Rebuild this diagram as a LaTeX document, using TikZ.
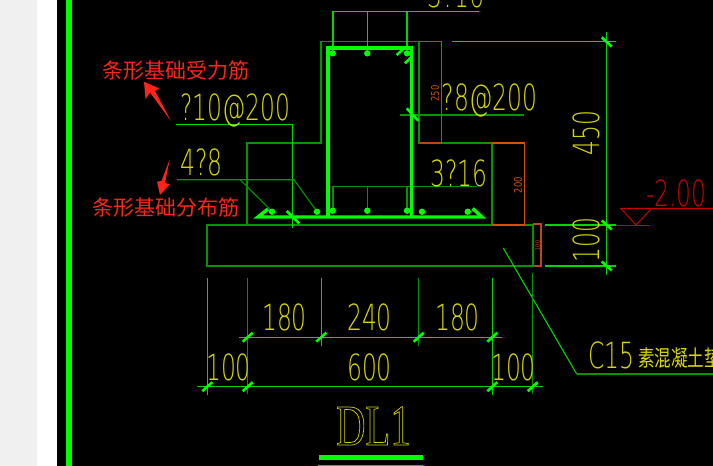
\documentclass[tikz,border=0pt]{standalone}
\usepackage{fontspec}
\setmainfont{Liberation Serif}
\newfontfamily\cadfont[FakeStretch=0.65]{DejaVu Sans ExtraLight}
\newfontfamily\smallfont[FakeStretch=0.8]{DejaVu Sans}
\newfontfamily\titlefont[FakeStretch=0.7]{Liberation Serif}
\newfontfamily\cjk{Noto Sans CJK SC}
\definecolor{cadgreen}{RGB}{0,215,0}
\definecolor{dkgreen}{RGB}{0,150,0}
\definecolor{rebargreen}{RGB}{0,255,0}
\definecolor{cadyellow}{RGB}{215,215,0}
\definecolor{cadorange}{RGB}{215,80,10}
\definecolor{cadbrown}{RGB}{190,70,20}
\definecolor{cadred}{RGB}{200,0,0}
\definecolor{notered}{RGB}{255,35,25}

\begin{document}
\begin{tikzpicture}[x=1pt, y=-1pt]
\tikzset{thinline/.style={draw=cadgreen, line width=1.1pt},
  darkline/.style={draw=dkgreen, line width=1.1pt},
  dimline/.style={draw=cadorange, line width=1.4pt},
  rebar/.style={draw=rebargreen, line width=3.4pt},
  rtick/.style={draw=rebargreen, line width=2.6pt},
  rdot/.style={fill=rebargreen},
  cadtxt/.style={text=cadyellow, inner sep=0pt, anchor=base west, font=\cadfont\fontsize{36}{36}\selectfont},
  smalltxt/.style={text=cadorange, inner sep=0pt, rotate=90, font=\smallfont\fontsize{10.5}{10.5}\selectfont},
  notetxt/.style={text=notered, inner sep=0pt, anchor=west, font=\cjk\fontsize{21}{21}\selectfont}}
\clip (0,0) rectangle (713,466);
% page and screen
\fill[black] (0,0) rectangle (713,466);
\fill[white] (0,0) rectangle (57,466);
\fill[black!6!white] (0,0) rectangle (37,466);
\fill[black] (57,0) rectangle (713,466);
\fill[rebargreen] (65.5,0) rectangle (71.5,466);
% concrete outline
\draw[darkline] (247,225) -- (247,143) -- (321,143) -- (321,41.6) -- (419,41.6) -- (419,143) -- (492,143) -- (492,225);
\draw[darkline] (207,225) rectangle (533,266);
% leaders to the top and bottom bars
\draw[thinline] (333,50) -- (333,11.5) -- (479,11.5);
\draw[thinline] (367.3,11.5) -- (367.3,50);
\draw[thinline] (407,11.5) -- (407,50);
\draw[darkline] (333,210) -- (333,186.3) -- (477,186.3);
\draw[darkline] (367.3,186.3) -- (367.3,210);
\draw[darkline] (407,186.3) -- (407,210);
\draw[thinline] (176,124.7) -- (292.3,124.7) -- (292.3,227.7);
\draw[darkline] (177,179.7) -- (294,179.7) -- (315.3,209.3);
\draw[darkline] (240,179.7) -- (270,209.3);
\draw[darkline] (400,115) -- (524,115);
% rebars
\draw[rebar] (328,216.7) -- (328,48) -- (411.7,48) -- (411.7,216.7);
\draw[rebar] (268,209) -- (258,217) -- (482,217) -- (472.7,208.5);
\draw[rtick] (396.7,55) -- (403,49.3);
\draw[rtick] (405,63.3) -- (411.7,56.7);
\draw[rtick] (406.7,108.3) -- (418.3,120.7);
\draw[rtick] (286.7,211) -- (299,223.3);
\fill[rdot] (332.7,53.3) circle (3.2);
\fill[rdot] (367.3,53.3) circle (3.2);
\fill[rdot] (407,53.3) circle (3.2);
\fill[rdot] (272,211.7) circle (3.2);
\fill[rdot] (317,211.7) circle (3.2);
\fill[rdot] (332.7,210.7) circle (3.2);
\fill[rdot] (367.3,210.7) circle (3.2);
\fill[rdot] (407,210.7) circle (3.2);
\fill[rdot] (422,211.7) circle (3.2);
\fill[rdot] (467.7,211.7) circle (3.2);
% small dimensions
\draw[dimline, draw=cadbrown] (420,41.6) -- (441.2,41.6) -- (441.2,143) -- (420,143);
\draw[dimline] (492,143) -- (524.7,143) -- (524.7,225) -- (492,225);
\draw[dimline, draw=cadbrown] (533,224) -- (541,224) -- (541,266) -- (533,266);
\node[smalltxt] (lab250) at (435,93.5) {250};
\node[smalltxt] (lab200) at (518,185) {200};
\node[smalltxt, font=\smallfont\fontsize{6}{6}\selectfont] (lab10) at (537.7,245.5) {100};
% right dimensions
\draw[thinline] (606.7,32) -- (606.7,275);
\draw[thinline] (451.7,41.6) -- (616,41.6);
\draw[thinline] (545,225) -- (616,225);
\draw[thinline] (545,266) -- (616,266);
\draw[rtick] (601.7,37.3) -- (611.7,46.7);
\draw[rtick] (601.7,220.5) -- (611.7,229.5);
\draw[rtick] (601.7,261.5) -- (611.7,270.5);
% level mark
\draw[cadred, line width=1pt] (713,208.3) -- (620.7,208.3) -- (636,225) -- (651.7,208.3);
\draw[cadred, line width=1pt] (616,225) -- (650,225);
% concrete leader
\draw[thinline] (503.3,248) -- (576.7,374);
\draw[darkline] (576.7,374) -- (713,374);
% bottom dimensions
\draw[thinline] (207.3,278) -- (207.3,395);
\draw[darkline] (247.7,278) -- (247.7,394);
\draw[thinline] (321.3,278) -- (321.3,346);
\draw[darkline] (418.7,278) -- (418.7,346);
\draw[thinline] (492.3,278) -- (492.3,395);
\draw[darkline] (532.7,273) -- (532.7,394);
\draw[thinline] (239,337.3) -- (501.7,337.3);
\draw[thinline] (197.3,386.7) -- (542.7,386.7);
\draw[rtick] (242.7,341.7) -- (252.7,332.7);
\draw[rtick] (316.3,341.7) -- (326.3,332.7);
\draw[rtick] (413.7,341.7) -- (423.7,332.7);
\draw[rtick] (487.3,341.7) -- (497.3,332.7);
\draw[rtick] (202.3,391.2) -- (212.3,382.2);
\draw[rtick] (242.7,391.2) -- (252.7,382.2);
\draw[rtick] (487.3,391.2) -- (497.3,382.2);
\draw[rtick] (527.7,391.2) -- (537.7,382.2);
% title bar
\fill[rebargreen] (319,454.8) rectangle (423,459.8);
\draw[thinline] (318,465.3) -- (423,465.3);
% texts
\node[cadtxt] (top) at (427,7) {3?16};
\node[cadtxt] (dist) at (180,120) {?10@200};
\node[cadtxt] (four) at (180,175.5) {4?8};
\node[cadtxt] (stir) at (441.5,110) {?8@200};
\node[cadtxt] (three) at (430,186) {3?16};
\node[cadtxt, rotate=90] (h450) at (599.7,155.7) {450};
\node[cadtxt, rotate=90] (h100) at (599.7,262.5) {100};
\node[cadtxt] (w180a) at (262,330) {180};
\node[cadtxt] (w240) at (347,330) {240};
\node[cadtxt] (w180b) at (435,330) {180};
\node[cadtxt] (w100a) at (206,380) {100};
\node[cadtxt] (w600) at (347,380) {600};
\node[cadtxt] (w100b) at (491,380) {100};
\node[cadtxt, text=cadred] (level) at (646,206) {-2.00};
\node[cadtxt] (c15) at (588,368) {C15};
\node[text=cadyellow, inner sep=0pt, anchor=base west, yscale=1.35, transform shape, font=\cjk\fontsize{16.5}{16.5}\selectfont] (c15b) at (638,366) {素混凝土垫};
\node[text=cadyellow, inner sep=0pt, anchor=base west, font=\titlefont\fontsize{58}{58}\selectfont] (title) at (336,445) {\special{pdf:code 1 Tr 0.7 w}DL1\special{pdf:code 0 Tr}};
% red notes
\node[notetxt] (note1) at (102.7,70.7) {条形基础受力筋};
\node[notetxt] (note2) at (92.7,208) {条形基础分布筋};
\fill[notered] (144,81.7) -- (159.3,88.5) -- (155,91) -- (171,121) -- (150,92.5) -- (145.5,99) -- cycle;
\fill[notered] (169.7,159.3) -- (165,183) -- (170,184.3) -- (160,195) -- (157,181.7) -- (161.5,181) -- cycle;
\end{tikzpicture}
\end{document}
